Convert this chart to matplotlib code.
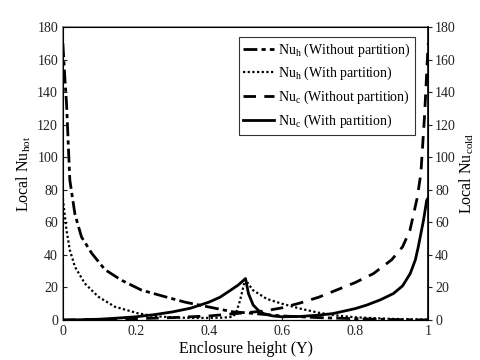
import matplotlib
matplotlib.use('Agg')
import matplotlib.pyplot as plt

plt.rcParams['font.family'] = ['Liberation Serif', 'DejaVu Serif']
plt.rcParams['mathtext.fontset'] = 'custom'
plt.rcParams['mathtext.rm'] = 'Liberation Serif'
plt.rcParams['mathtext.it'] = 'Liberation Serif:italic'

# Nu_h without partition (dash-dot)
y_h_wo = [0, 0.005, 0.01, 0.019, 0.033, 0.051, 0.079, 0.115, 0.16, 0.215, 0.28,
          0.334, 0.4, 0.466, 0.5, 0.548, 0.6, 0.7, 0.8, 0.9, 1.0]
nu_h_wo = [170, 150, 133, 86, 65, 51, 41, 31, 24.5, 18.4, 14.3,
           11, 8, 5, 4.5, 3.5, 2.5, 1.5, 0.8, 0.3, 0]

# Nu_h with partition (dotted)
y_h_w = [0, 0.01, 0.019, 0.033, 0.06, 0.097, 0.142, 0.206, 0.25, 0.3, 0.35, 0.4,
         0.44, 0.466, 0.475, 0.485, 0.499, 0.52, 0.558, 0.6, 0.65, 0.7, 0.75,
         0.8, 0.9, 1.0]
nu_h_w = [74.5, 55, 43, 32.7, 22.5, 14.3, 8.2, 4.1, 2.4, 1.6, 1.3, 1.3,
          1.5, 2, 5, 12, 25, 18.4, 13, 10, 7, 4.5, 2.8,
          1.7, 0.7, 0.3]

# Nu_c without partition (dashed)
y_c_wo = [0, 0.1, 0.2, 0.3, 0.4, 0.45, 0.5, 0.55, 0.6, 0.65, 0.7, 0.75, 0.8,
          0.85, 0.9, 0.93, 0.95, 0.97, 0.98, 0.99, 1.0]
nu_c_wo = [0, 0.3, 0.8, 1.5, 2.5, 3.5, 4.5, 5.5, 7.5, 10.5, 14, 18.5, 23,
           28.5, 37, 45, 55, 75, 90, 125, 170]

# Nu_c with partition (solid)
y_c_w = [0, 0.05, 0.1, 0.15, 0.2, 0.25, 0.3, 0.35, 0.4, 0.43, 0.457, 0.48, 0.5,
         0.508, 0.521, 0.535, 0.549, 0.575, 0.6, 0.65, 0.7, 0.74, 0.8, 0.832,
         0.87, 0.905, 0.93, 0.951, 0.965, 0.973, 0.987, 0.996, 1.0]
nu_c_w = [0, 0.2, 0.5, 1.2, 2, 3.3, 5, 7.3, 11, 14, 18, 21.5, 25.5,
          16.3, 9.2, 6, 4, 2.5, 2, 2.2, 3, 4, 7, 9.2,
          12.5, 16.3, 21, 28.6, 37, 45, 61, 73.5, 75]

labels = ['Nu$_\\mathrm{h}$ (Without partition)', 'Nu$_\\mathrm{h}$ (With partition)',
          'Nu$_\\mathrm{c}$ (Without partition)', 'Nu$_\\mathrm{c}$ (With partition)']

fig = plt.figure(figsize=(4.8, 3.6), dpi=100)
ax = fig.add_axes([0.131, 0.111, 0.761, 0.814])

ax.plot(y_h_wo, nu_h_wo, color='black', lw=2, dashes=(5, 1.5, 1.5, 1.5), label=labels[0])
ax.plot(y_h_w, nu_h_w, color='black', lw=1.6, dashes=(1, 1.1), label=labels[1])
ax.plot(y_c_wo, nu_c_wo, color='black', lw=2, dashes=(4.5, 3), label=labels[2])
ax.plot(y_c_w, nu_c_w, color='black', lw=2, label=labels[3])

ax.set_xlim(0, 1)
ax.set_ylim(0, 180)
ax.set_xticks([0, 0.2, 0.4, 0.6, 0.8, 1])
ax.set_xticklabels(['0', '0.2', '0.4', '0.6', '0.8', '1'])
ax.set_yticks(range(0, 181, 20))
ax.tick_params(direction='in', length=3, labelsize=10, colors='#222222')
ax.set_xlabel('Enclosure height (Y)', fontsize=11.5, labelpad=2)
ax.set_ylabel('Local Nu$_\\mathrm{hot}$', fontsize=11.5, labelpad=3)

for s in ['left', 'top']:
    ax.spines[s].set_color('#808080')
    ax.spines[s].set_linewidth(1.2)
ax.spines['bottom'].set_color('#333333')

ax2 = ax.twinx()
ax2.set_ylim(0, 180)
ax2.set_yticks(range(0, 181, 20))
ax2.tick_params(direction='out', length=3, pad=2, labelsize=10, colors='#222222')
ax2.set_ylabel('Local Nu$_\\mathrm{cold}$', fontsize=11.5, labelpad=1)
ax2.spines['right'].set_color('black')
ax2.spines['right'].set_linewidth(1.2)

leg = ax.legend(loc='upper right', bbox_to_anchor=(0.965, 0.967), fontsize=10,
                frameon=True, fancybox=False, handlelength=2.2, handletextpad=0.3,
                labelspacing=0.45, borderpad=0.35, borderaxespad=0)
leg.get_frame().set_edgecolor('black')
leg.get_frame().set_linewidth(0.8)

fig.savefig('out.png', dpi=100)
